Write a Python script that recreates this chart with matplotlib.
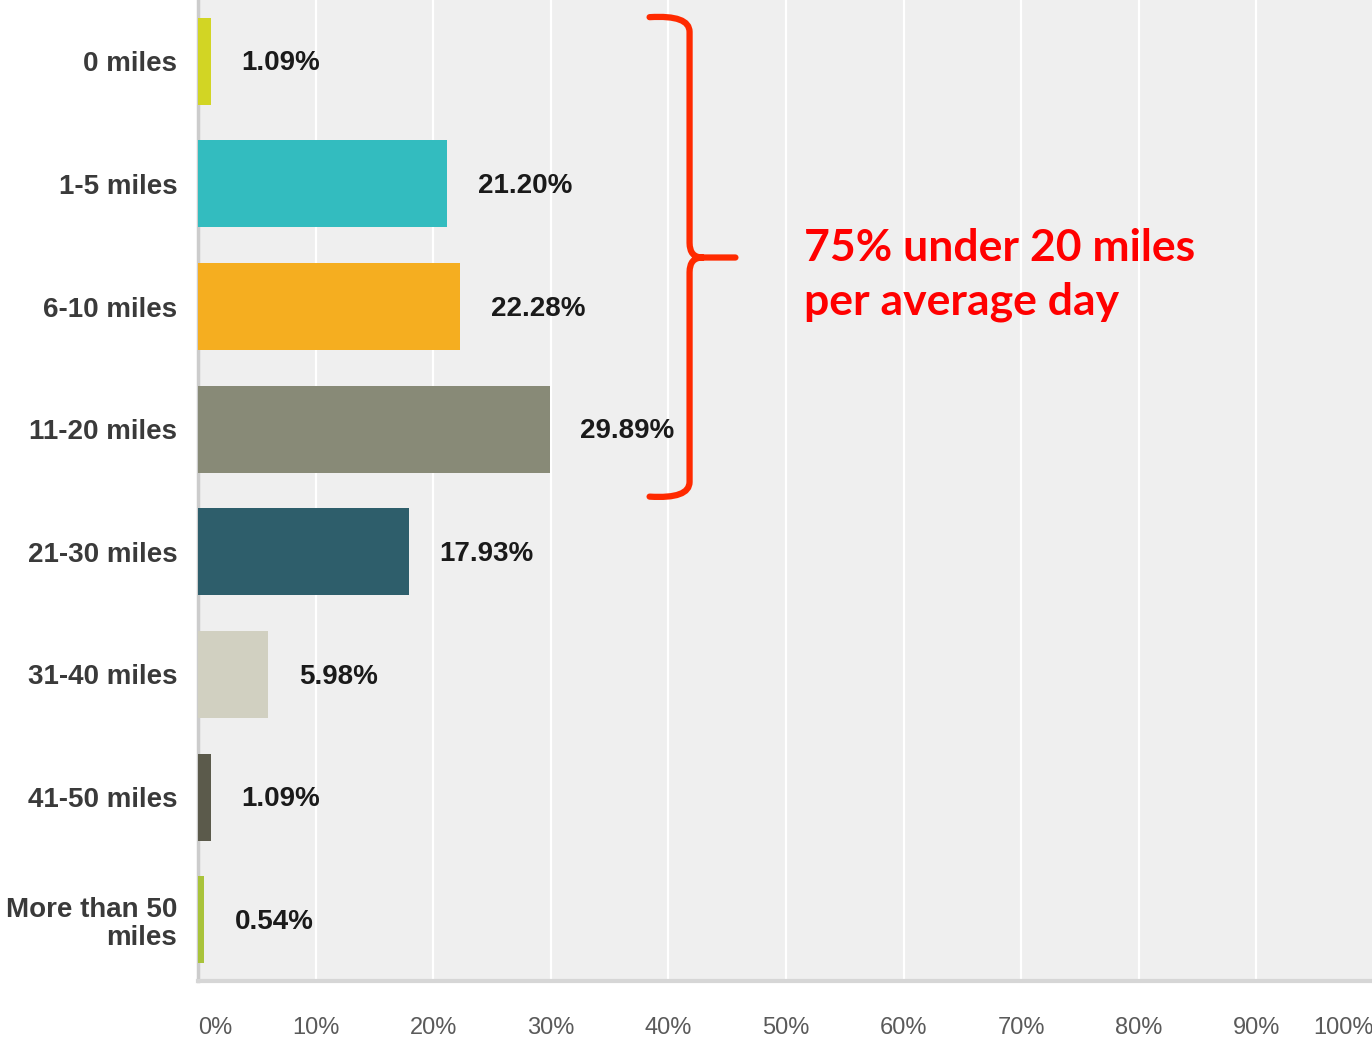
import matplotlib.pyplot as plt
import numpy as np
from matplotlib.path import Path
from matplotlib.patches import PathPatch

categories = ["0 miles", "1-5 miles", "6-10 miles", "11-20 miles",
              "21-30 miles", "31-40 miles", "41-50 miles", "More than 50\nmiles"]
values = [1.09, 21.20, 22.28, 29.89, 17.93, 5.98, 1.09, 0.54]
colors = ["#d2d524", "#33bcbf", "#f5ae20", "#888a77", "#2e5e6b",
          "#d1d0c1", "#5b5a4b", "#a9c33a"]
xticks = np.arange(0, 101, 10)
xticklabels = [f"{t}%" for t in xticks]

fig = plt.figure(figsize=(13.72, 10.38), dpi=100)
ax = fig.add_axes([198 / 1372, 1 - 981 / 1038, 1176 / 1372, 981 / 1038])
ax.set_facecolor("#efefef")

y = np.arange(len(categories))
ax.barh(y, values, height=0.71, color=colors, zorder=3)
ax.set_xlim(0, 100)
ax.set_ylim(len(categories) - 0.5, -0.5)

ax.set_yticks(y)
ax.set_yticklabels(categories, fontsize=20, fontweight="bold", color="#3a3a3a",
                   family="Liberation Sans", linespacing=1.1)
ax.tick_params(axis="y", length=0, pad=15)

ax.set_xticks(xticks)
labels = ax.set_xticklabels(xticklabels, fontsize=17, color="#5a5a5a",
                            family="Liberation Sans")
labels[0].set_ha("left")
labels[-1].set_ha("right")
ax.tick_params(axis="x", length=0, pad=26)

ax.grid(axis="x", color="white", linewidth=1.6, zorder=1)
ax.set_axisbelow(True)
for s in ["top", "right"]:
    ax.spines[s].set_visible(False)
ax.spines["left"].set_color("#cccccc")
ax.spines["left"].set_linewidth(2.5)
ax.spines["bottom"].set_color("#d6d6d6")
ax.spines["bottom"].set_linewidth(3)

for yi, v in zip(y, values):
    ax.annotate(f"{v:.2f}%", (v, yi), xytext=(22, -1.5), textcoords="offset points",
                ha="left", va="center", fontsize=20, fontweight="bold",
                color="#1a1a1a", family="Liberation Sans", zorder=4)

# red curly brace around the first four bars
bx, bl, bt = 41.8, 38.4, 45.7
top, mid, bot = -0.36, 1.6, 3.55
verts = [
    (bl, top), (bx, top - 0.02), (bx, top + 0.12),
    (bx, mid - 0.12), (bx, mid), (bt - 2.8, mid), (bt, mid),
    (bt - 2.8, mid), (bx, mid), (bx, mid + 0.12),
    (bx, bot - 0.12), (bx, bot + 0.02), (bl, bot),
]
codes = [Path.MOVETO, Path.CURVE3, Path.CURVE3,
         Path.LINETO, Path.CURVE3, Path.CURVE3, Path.LINETO,
         Path.MOVETO, Path.CURVE3, Path.CURVE3,
         Path.LINETO, Path.CURVE3, Path.CURVE3]
ax.add_patch(PathPatch(Path(verts, codes), facecolor="none", edgecolor="#ff2a00",
                       linewidth=4.5, capstyle="round", joinstyle="round",
                       zorder=5, clip_on=False))

ax.text(51.5, 1.74, "75% under 20 miles\nper average day", color="#ff0000",
        fontsize=32, fontweight="bold", family="Lato", ha="left", va="center",
        linespacing=1.4, zorder=5)

fig.savefig("out.png", dpi=100)
